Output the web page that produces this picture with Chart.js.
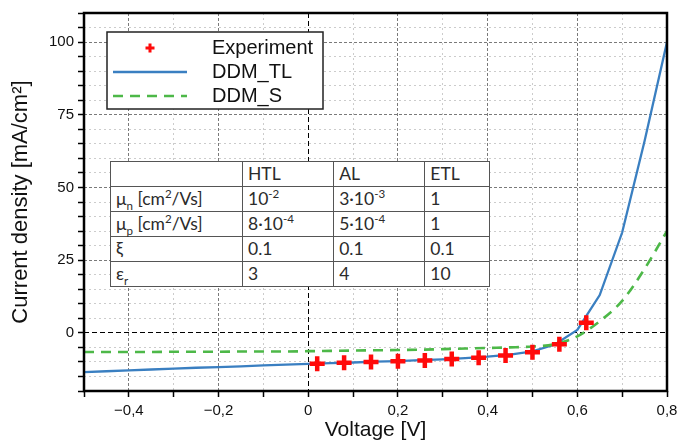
<!DOCTYPE html>
<html>
<head>
<meta charset="utf-8">
<script src="https://cdn.jsdelivr.net/npm/chart.js@4/dist/chart.umd.min.js"></script>
<style>
  html, body { margin: 0; padding: 0; background: #fff; }
  #wrap { position: relative; width: 683px; height: 441px; }
  #params {
    position: absolute; left: 110px; top: 161px; width: 380px; height: 126px;
    border-collapse: collapse; background: #fff;
    font-family: Lato, "Noto Sans", sans-serif; font-size: 17.5px; color: #2b2b2b;
  }
  #params td { border: 1px solid #555; padding: 0 5px; height: 24px; line-height: 1; white-space: nowrap; }
  #params sup, #params sub { font-size: 0.66em; line-height: 0; }
</style>
</head>
<body>
<div id="wrap">
  <canvas id="jvChart" width="683" height="441"></canvas>
  <table id="params"></table>
</div>
<script>
// J-V curves, voltage in V, current density in mA/cm2
const voltage = [-0.5, -0.45, -0.4, -0.35, -0.3, -0.25, -0.2, -0.15, -0.1, -0.05, 0,
  0.05, 0.1, 0.15, 0.2, 0.25, 0.3, 0.35, 0.4, 0.45, 0.5, 0.55, 0.6, 0.65, 0.7, 0.75, 0.8];
const jDdmTl = [-13.5, -13.2, -12.9, -12.6, -12.3, -12.0, -11.8, -11.5, -11.2, -10.9, -10.7,
  -10.4, -10.2, -9.9, -9.7, -9.4, -9.1, -8.7, -8.2, -7.5, -6.4, -4.0, 1.0, 13.0, 34.5, 66, 100];
const jDdmS = [-6.6, -6.6, -6.6, -6.6, -6.5, -6.5, -6.5, -6.4, -6.4, -6.4, -6.3,
  -6.2, -6.1, -6.0, -5.9, -5.8, -5.6, -5.4, -5.2, -5.0, -4.7, -3.9, -1.2, 4, 11, 22, 35];

const expVoltage = [0.02, 0.08, 0.14, 0.20, 0.26, 0.32, 0.38, 0.44, 0.50, 0.56, 0.62];
const expCurrent = [-10.6, -10.3, -10.0, -9.8, -9.5, -9.0, -8.6, -7.8, -6.7, -3.9, 3.5];

// parameter table
const layers = ["HTL", "AL", "ETL"];
const paramNames = ["μ<sub>n</sub> [cm<sup>2</sup>/Vs]", "μ<sub>p</sub> [cm<sup>2</sup>/Vs]", "ξ", "ε<sub>r</sub>"];
const paramValues = [
  ["10<sup>-2</sup>", "3·10<sup>-3</sup>", "1"],
  ["8·10<sup>-4</sup>", "5·10<sup>-4</sup>", "1"],
  ["0.1", "0.1", "0.1"],
  ["3", "4", "10"]
];

const legendItems = ["Experiment", "DDM_TL", "DDM_S"];

const BLUE = "#3a7fc1";
const GREEN = "#4db848";
const RED = "#ff0a0a";

function pairs(xs, ys) {
  return xs.map((x, i) => ({ x: x, y: ys[i] }));
}

// table
let html = "<tr><td style='width:121px'></td>" + layers.map(l => "<td>" + l + "</td>").join("") + "</tr>";
paramNames.forEach((name, r) => {
  html += "<tr><td>" + name + "</td>" + paramValues[r].map(v => "<td>" + v + "</td>").join("") + "</tr>";
});
document.getElementById("params").innerHTML = html;

function gridColor(isZero, isMajor) {
  if (isZero) return "#000";
  return isMajor ? "#7a7a7a" : "#cccccc";
}

const frame = {
  id: "frame",
  afterDatasetsDraw(chart) {
    const { ctx, chartArea: a } = chart;
    ctx.save();
    ctx.strokeStyle = "#000";
    ctx.lineWidth = 2.5;
    ctx.strokeRect(a.left, a.top, a.right - a.left, a.bottom - a.top);
    ctx.restore();
  }
};

const legendBox = {
  id: "legendBox",
  afterDraw(chart) {
    const ctx = chart.ctx;
    const x0 = 107, y0 = 32, w = 216, h = 77;
    ctx.save();
    ctx.fillStyle = "#fff";
    ctx.fillRect(x0, y0, w, h);
    ctx.strokeStyle = "#222";
    ctx.lineWidth = 1.5;
    ctx.strokeRect(x0, y0, w, h);

    const rowY = [48, 72, 96];
    // Experiment marker
    ctx.strokeStyle = RED;
    ctx.lineWidth = 3;
    ctx.beginPath();
    ctx.moveTo(150 - 4.5, rowY[0]); ctx.lineTo(150 + 4.5, rowY[0]);
    ctx.moveTo(150, rowY[0] - 4.5); ctx.lineTo(150, rowY[0] + 4.5);
    ctx.stroke();
    // DDM_TL
    ctx.strokeStyle = BLUE;
    ctx.lineWidth = 2.5;
    ctx.beginPath();
    ctx.moveTo(113, rowY[1]); ctx.lineTo(187, rowY[1]);
    ctx.stroke();
    // DDM_S
    ctx.strokeStyle = GREEN;
    ctx.setLineDash([10, 7]);
    ctx.beginPath();
    ctx.moveTo(113, rowY[2]); ctx.lineTo(187, rowY[2]);
    ctx.stroke();
    ctx.setLineDash([]);

    ctx.fillStyle = "#111";
    ctx.font = "20px 'Liberation Sans', Arial, sans-serif";
    ctx.textBaseline = "middle";
    legendItems.forEach((t, i) => ctx.fillText(t, 212, rowY[i]));
    ctx.restore();
  }
};

const ctx = document.getElementById("jvChart").getContext("2d");

new Chart(ctx, {
  type: "scatter",
  data: {
    datasets: [
      {
        label: legendItems[0],
        data: pairs(expVoltage, expCurrent),
        showLine: false,
        pointStyle: "cross",
        pointRadius: 7.5,
        pointBorderWidth: 4.5,
        pointBorderColor: RED,
        pointBackgroundColor: RED,
        order: 0
      },
      {
        label: legendItems[1],
        data: pairs(voltage, jDdmTl),
        showLine: true,
        borderColor: BLUE,
        borderWidth: 2.3,
        pointRadius: 0,
        order: 2
      },
      {
        label: legendItems[2],
        data: pairs(voltage, jDdmS),
        showLine: true,
        borderColor: GREEN,
        borderWidth: 2.6,
        borderDash: [10, 7],
        cubicInterpolationMode: "monotone",
        pointRadius: 0,
        order: 1
      }
    ]
  },
  options: {
    responsive: false,
    animation: false,
    layout: { padding: { left: 0, right: 16, top: 10, bottom: 0 } },
    plugins: {
      legend: { display: false },
      tooltip: { enabled: false }
    },
    scales: {
      x: {
        type: "linear",
        min: -0.5,
        max: 0.8,
        afterFit: (s) => { s.height = 50; },
        border: {
          display: false,
          dash: (c) => {
            if (!c.tick) return [];
            const k = Math.round(c.tick.value * 10);
            return k === 0 ? [5, 3] : (k % 2 === 0 ? [3, 2] : [2, 3]);
          }
        },
        grid: {
          color: (c) => {
            const k = Math.round(c.tick.value * 10);
            return gridColor(k === 0, k % 2 === 0);
          },
          lineWidth: 1,
          tickLength: 6,
          tickColor: "#000",
          tickWidth: 1.5,
          tickBorderDash: []
        },
        ticks: {
          stepSize: 0.1,
          maxTicksLimit: 100,
          autoSkip: false,
          maxRotation: 0,
          padding: 5,
          color: "#111",
          font: { family: "'Liberation Sans', Arial, sans-serif", size: 15 },
          callback: (v) => {
            const k = Math.round(v * 10);
            if (k % 2 !== 0) return "";
            if (k === 0) return "0";
            return (k < 0 ? "−" : "") + "0," + Math.abs(k);
          }
        },
        title: {
          display: true,
          text: "Voltage [V]",
          color: "#111",
          padding: { top: 0, bottom: 0 },
          font: { family: "'Liberation Sans', Arial, sans-serif", size: 21, lineHeight: 1 }
        }
      },
      y: {
        min: -20,
        max: 110,
        afterFit: (s) => { s.width = 84; },
        border: {
          display: false,
          dash: (c) => {
            if (!c.tick) return [];
            const v = c.tick.value;
            return v === 0 ? [5, 3] : (v % 25 === 0 ? [3, 2] : [2, 3]);
          }
        },
        grid: {
          color: (c) => gridColor(c.tick.value === 0, c.tick.value % 25 === 0),
          lineWidth: 1,
          tickLength: 6,
          tickColor: "#000",
          tickWidth: 1.5,
          tickBorderDash: []
        },
        ticks: {
          stepSize: 5,
          maxTicksLimit: 100,
          autoSkip: false,
          padding: 4,
          color: "#111",
          font: { family: "'Liberation Sans', Arial, sans-serif", size: 15 },
          callback: (v) => (v >= 0 && v % 25 === 0 ? String(v) : "")
        },
        title: {
          display: true,
          text: "Current density [mA/cm²]",
          color: "#111",
          padding: { top: 10, bottom: 0 },
          font: { family: "'Liberation Sans', Arial, sans-serif", size: 22, lineHeight: 1 }
        }
      }
    }
  },
  plugins: [frame, legendBox]
});
</script>
</body>
</html>
